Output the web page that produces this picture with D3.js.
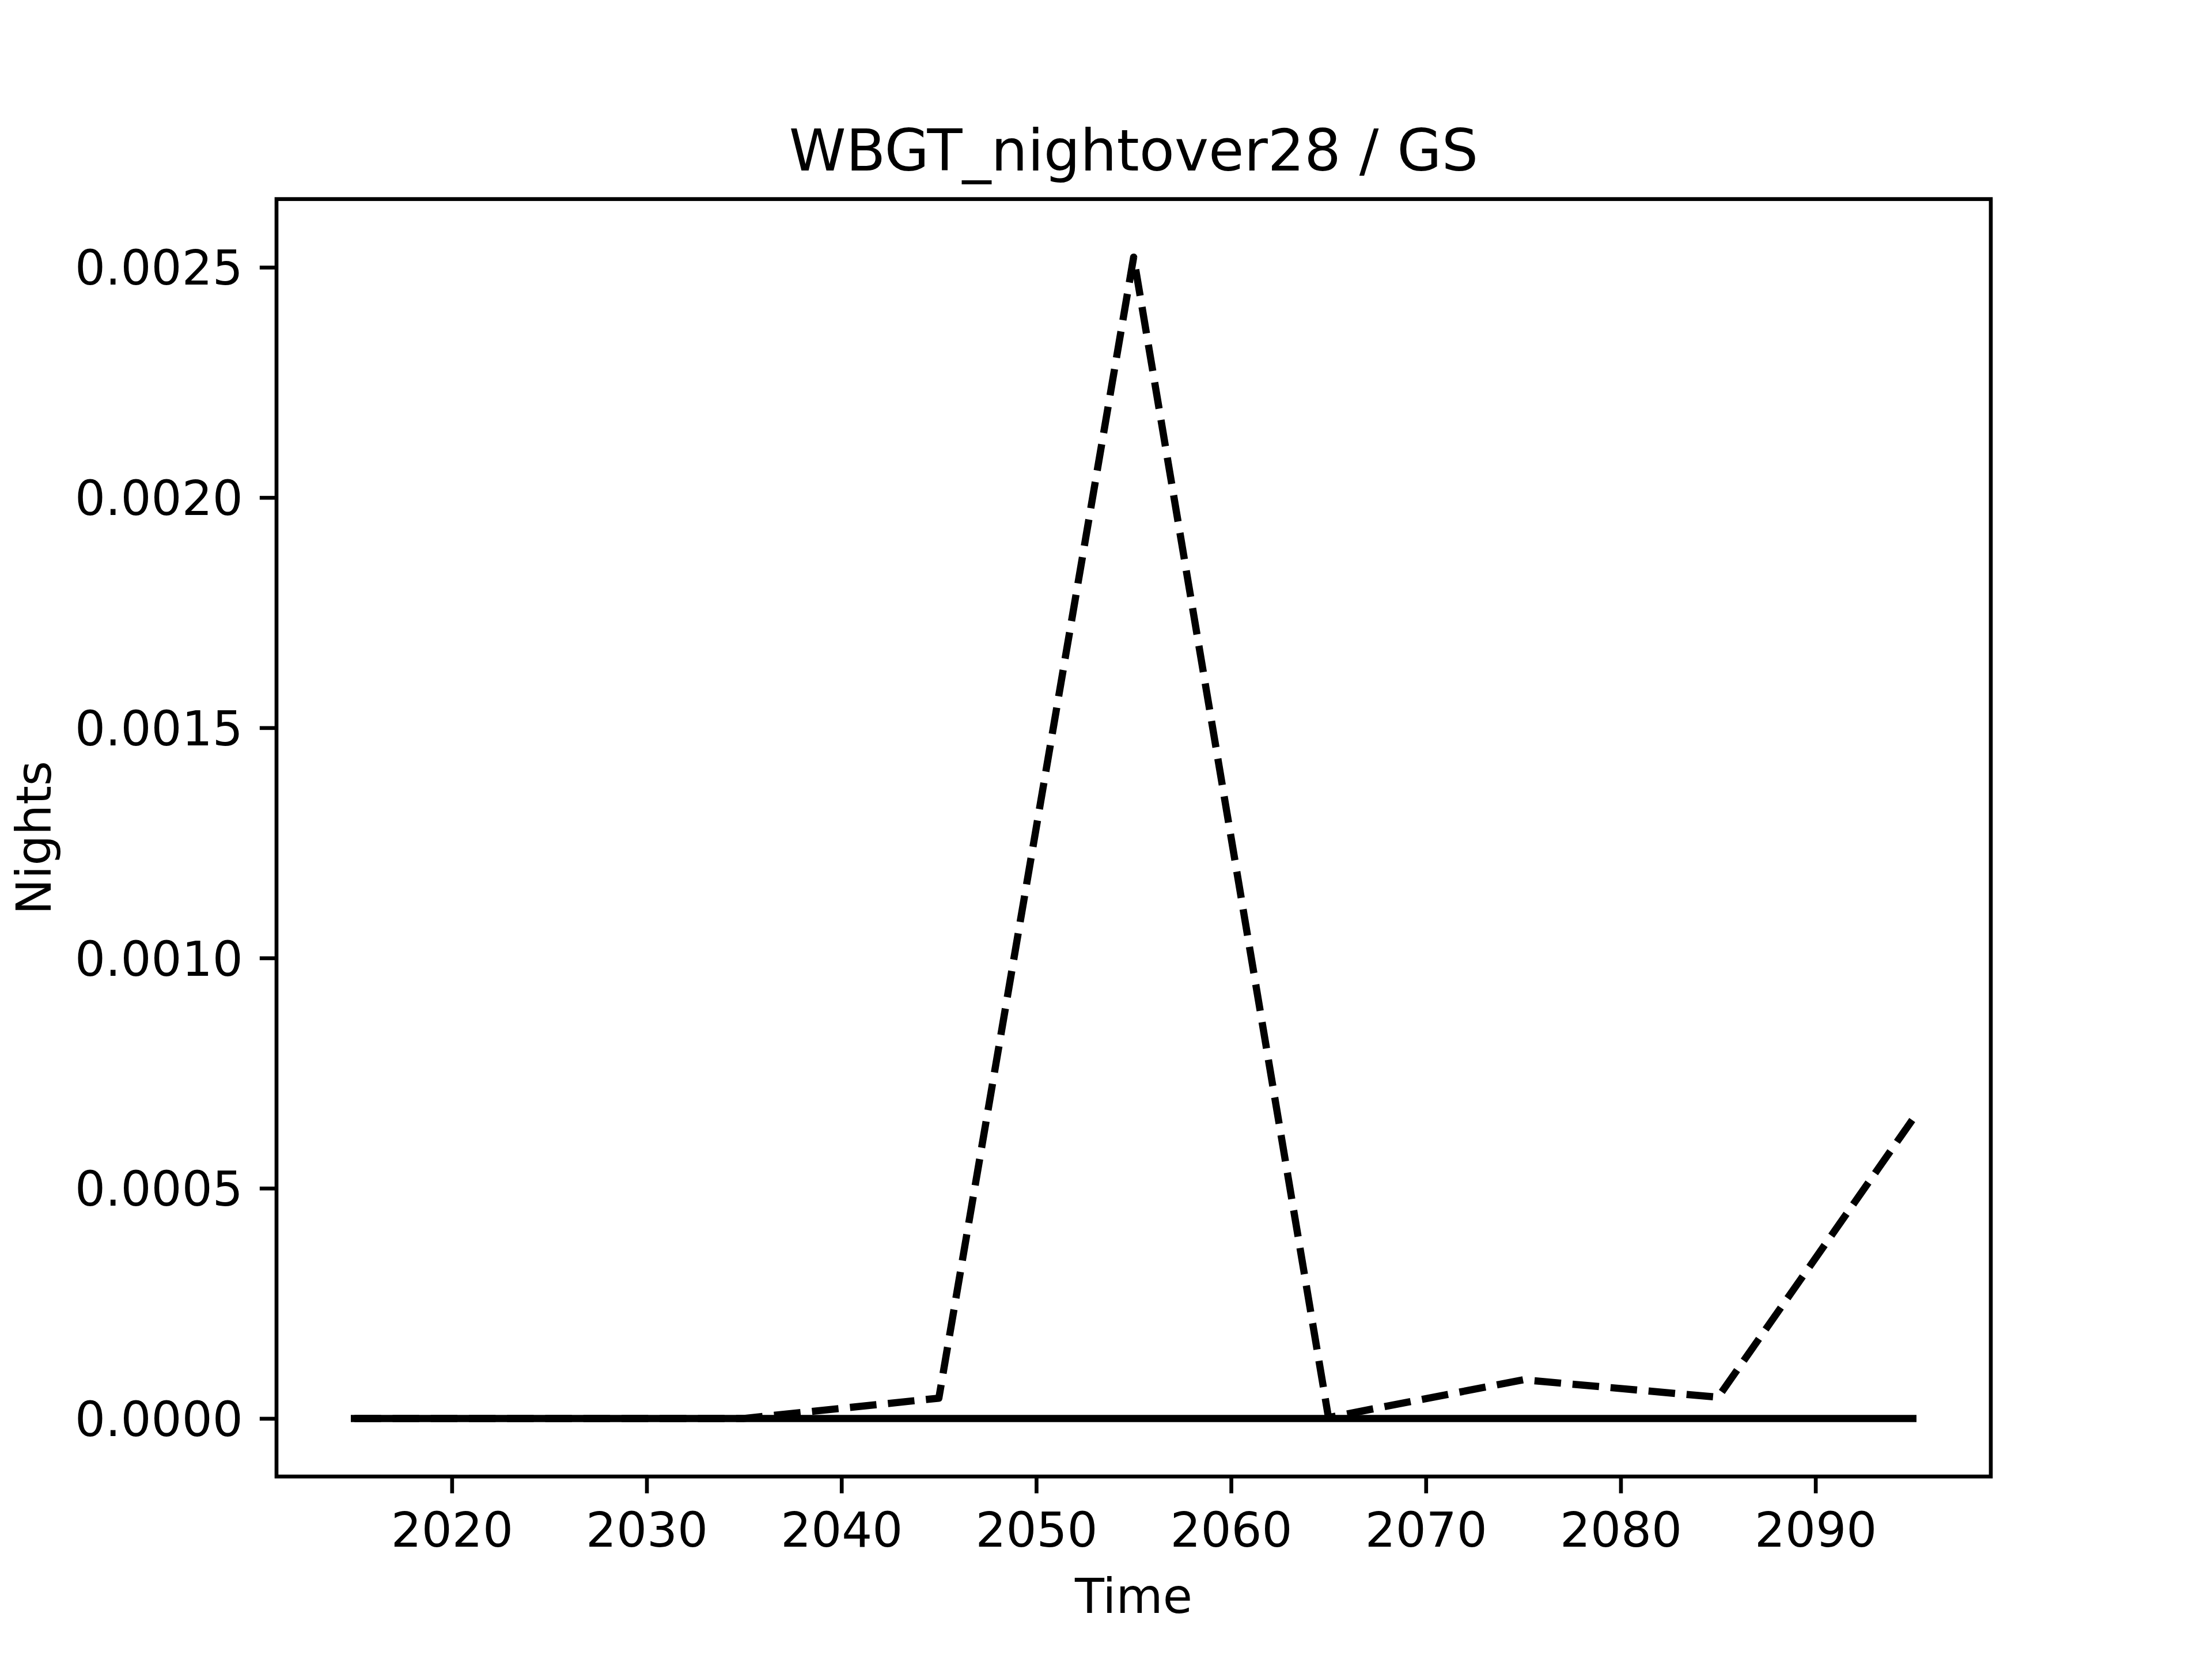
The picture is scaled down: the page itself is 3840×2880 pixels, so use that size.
<!DOCTYPE html>
<html><head><meta charset="utf-8">
<script src="https://cdn.jsdelivr.net/npm/d3@7"></script>
<style>html,body{margin:0;padding:0;background:#fff;}</style>
</head><body>
<script>
const years = [2015, 2025, 2035, 2045, 2055, 2065, 2075, 2085, 2095];
const dashedValues = [0, 0, 0, 0.000044, 0.002522, 0.000002, 0.000084, 0.000046, 0.00065];
const solidValues = [0, 0, 0, 0, 0, 0, 0, 0, 0];
const xTicks = [2020, 2030, 2040, 2050, 2060, 2070, 2080, 2090];
const yTicks = [0, 0.0005, 0.001, 0.0015, 0.002, 0.0025];
const titleText = "WBGT_nightover28 / GS";
const xLabel = "Time";
const yLabel = "Nights";

(function () {
const W = 3840, H = 2880;
const mL = 480, mR = 3456, mT = 345.6, mB = 2563.2;
const pt = 600 / 72;
const font = "'DejaVu Sans', sans-serif";

const svg = d3.select("body").append("svg").attr("width", W).attr("height", H)
  .style("display", "block");
svg.append("rect").attr("width", W).attr("height", H).attr("fill", "#fff");

const xmin = d3.min(years), xmax = d3.max(years);
const xm = (xmax - xmin) * 0.05;
const allY = dashedValues.concat(solidValues);
const ymin = d3.min(allY), ymax = d3.max(allY);
const ym = (ymax - ymin) * 0.05;

const x = d3.scaleLinear().domain([xmin - xm, xmax + xm]).range([mL, mR]);
const y = d3.scaleLinear().domain([ymin - ym, ymax + ym]).range([mB, mT]);

svg.append("clipPath").attr("id", "clip").append("rect")
  .attr("x", mL).attr("y", mT).attr("width", mR - mL).attr("height", mB - mT);

const line = d3.line().x((d, i) => x(years[i])).y(d => y(d));
const g = svg.append("g").attr("clip-path", "url(#clip)");
g.append("path").datum(dashedValues).attr("d", line).attr("fill", "none")
  .attr("stroke", "#000").attr("stroke-width", 1.5 * pt)
  .attr("stroke-dasharray", `${3.7 * 1.5 * pt},${1.6 * 1.5 * pt}`)
  .attr("stroke-linejoin", "round");
g.append("path").datum(solidValues).attr("d", line).attr("fill", "none")
  .attr("stroke", "#000").attr("stroke-width", 1.5 * pt)
  .attr("stroke-linecap", "square").attr("stroke-linejoin", "round");

const tickLen = 3.5 * pt, tickW = 0.8 * pt, pad = 3.5 * pt, fs = 10 * pt;

const xAxis = d3.axisBottom(x).tickValues(xTicks).tickFormat(d3.format("d"))
  .tickSizeInner(tickLen).tickSizeOuter(0).tickPadding(pad);
const xg = svg.append("g").attr("transform", `translate(0,${mB})`).call(xAxis);
xg.select(".domain").remove();
xg.selectAll("line").attr("stroke", "#000").attr("stroke-width", tickW);
xg.selectAll("text").attr("font-family", font).attr("font-size", fs).attr("fill", "#000")
  .attr("dy", "0.76em");

const yAxis = d3.axisLeft(y).tickValues(yTicks).tickFormat(d3.format(".4f"))
  .tickSizeInner(tickLen).tickSizeOuter(0).tickPadding(pad);
const yg = svg.append("g").attr("transform", `translate(${mL},0)`).call(yAxis);
yg.select(".domain").remove();
yg.selectAll("line").attr("stroke", "#000").attr("stroke-width", tickW);
yg.selectAll("text").attr("font-family", font).attr("font-size", fs).attr("fill", "#000")
  .attr("dy", "0.36em");

svg.append("rect").attr("x", mL).attr("y", mT).attr("width", mR - mL)
  .attr("height", mB - mT).attr("fill", "none").attr("stroke", "#000")
  .attr("stroke-width", tickW);

svg.append("text").attr("x", (mL + mR) / 2).attr("y", mT - 6 * pt)
  .attr("text-anchor", "middle").attr("font-family", font).attr("font-size", 12 * pt)
  .attr("fill", "#000").text(titleText);

svg.append("text").attr("x", (mL + mR) / 2).attr("y", 2800)
  .attr("text-anchor", "middle").attr("font-family", font).attr("font-size", fs)
  .attr("fill", "#000").text(xLabel);

svg.append("text").attr("transform", `translate(88,${(mT + mB) / 2}) rotate(-90)`)
  .attr("text-anchor", "middle").attr("font-family", font).attr("font-size", fs)
  .attr("fill", "#000").text(yLabel);
})();
</script>
</body></html>
